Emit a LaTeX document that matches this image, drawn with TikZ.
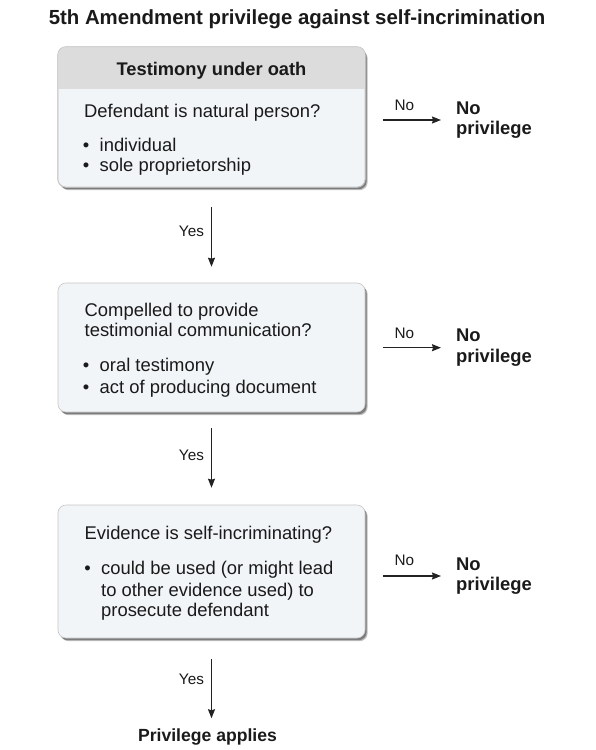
\documentclass[tikz,border=0pt]{standalone}
\usepackage{fontspec}
\setmainfont{Liberation Sans}
\usetikzlibrary{arrows.meta,shadows}
\definecolor{boxfill}{HTML}{F2F5F8}
\definecolor{headfill}{HTML}{DCDCDC}
\definecolor{boxline}{HTML}{C6C6C6}
\definecolor{ink}{HTML}{1A1A1A}
\definecolor{arrowc}{HTML}{222222}
\begin{document}
\begin{tikzpicture}[x=1pt,y=-1pt,
  box/.style={draw=boxline, line width=0.6pt, fill=boxfill, rounded corners=8pt,
    minimum width=307pt, inner sep=0pt,
    general shadow={shadow xshift=2.6pt, shadow yshift=-3.2pt, fill=black, opacity=.25},
    general shadow={shadow xshift=1.6pt, shadow yshift=-2.2pt, fill=black, opacity=.35}},
  txt/.style={inner sep=0pt, anchor=base west, text=ink, font=\fontsize{18.4}{22}\selectfont},
  item/.style={txt, execute at begin node={\llap{\textbullet\hspace{10.5pt}}}},
  head/.style={inner sep=0pt, anchor=base, text=ink, font=\fontsize{18.3}{22}\selectfont\bfseries},
  nopriv/.style={inner sep=0pt, anchor=west, align=left, text=ink, font=\fontsize{18.4}{20.7}\selectfont\bfseries},
  lab/.style={inner sep=0pt, text=ink, font=\fontsize{15.3}{18}\selectfont},
  arr/.style={draw=arrowc, line width=1.2pt, -{Stealth[length=9pt,width=7pt,inset=1pt]}}
]
\fill[white] (0,0) rectangle (596,750);
\useasboundingbox (0,0) rectangle (596,750);

% title
\node[inner sep=0pt, anchor=base, text=ink, font=\fontsize{20.4}{24}\selectfont\bfseries] (title) at (297,24)
  {5th Amendment privilege against self-incrimination};

% box 1
\node[box, minimum height=140pt] (b1) at (211.5,117) {};
\coordinate (hb) at (0,89);
\begin{scope}
  \clip[rounded corners=8pt] (b1.south west) rectangle (b1.north east);
  \fill[headfill] (b1.north west) rectangle (b1.north east |- hb);
\end{scope}
\draw[boxline, line width=0.6pt, rounded corners=8pt] (b1.south west) rectangle (b1.north east);
\node[head] (h1) at (211.5,75) {Testimony under oath};
\node[txt] (q1) at (84,117.3) {Defendant is natural person?};
\node[item] (i1a) at (99.5,151) {individual};
\node[item] (i1b) at (99.5,171.7) {sole proprietorship};

% box 2
\node[box, minimum height=129pt] (b2) at (211.5,347.5) {};
\node[txt] (q2a) at (84.5,316) {Compelled to provide};
\node[txt] (q2b) at (84.5,336.7) {testimonial communication?};
\node[item] (i2a) at (99.5,371.7) {oral testimony};
\node[item] (i2b) at (99.5,393.3) {act of producing document};

% box 3
\node[box, minimum height=133pt] (b3) at (211.5,571.5) {};
\node[txt] (q3) at (84.5,539) {Evidence is self-incriminating?};
\node[item] (i3a) at (101,574) {could be used (or might lead};
\node[txt] (i3b) at (101,596) {to other evidence used) to};
\node[txt] (i3c) at (101,616.7) {prosecute defendant};

% final
\node[inner sep=0pt, anchor=base, text=ink, font=\fontsize{17.6}{20}\selectfont\bfseries] (pa) at (207.5,741.7) {Privilege applies};

% no privilege nodes
\node[nopriv] (np1) at (456,120) {No\\privilege};
\node[nopriv] (np2) at (456,347.7) {No\\privilege};
\node[nopriv] (np3) at (456,576) {No\\privilege};

% yes arrows
\draw[arr, shorten <=20pt, shorten >=16pt] (b1.south) -- (b2.north)
  node[lab, midway, anchor=base east, xshift=-7pt, yshift=-1.5pt] (y1) {Yes};
\draw[arr, shorten <=16pt, shorten >=17pt] (b2.south) -- (b3.north)
  node[lab, midway, anchor=base east, xshift=-7pt, yshift=-1.5pt] (y2) {Yes};
\draw[arr, shorten <=21pt, shorten >=10.5pt] (b3.south) -- (b3.south |- pa.north)
  node[lab, midway, anchor=base east, xshift=-7pt, yshift=-1pt] (y3) {Yes};

% no arrows
\draw[arr, shorten <=17.5pt, shorten >=15pt] (b1.east |- np1.west) -- (np1.west)
  node[lab, pos=.43, anchor=base, yshift=9.3pt] (n1) {No};
\draw[arr, shorten <=17.5pt, shorten >=15pt] (b2.east |- np2.west) -- (np2.west)
  node[lab, pos=.43, anchor=base, yshift=9.3pt] (n2) {No};
\draw[arr, shorten <=17.5pt, shorten >=15pt] (b3.east |- np3.west) -- (np3.west)
  node[lab, pos=.43, anchor=base, yshift=10.3pt] (n3) {No};
\end{tikzpicture}
\end{document}
